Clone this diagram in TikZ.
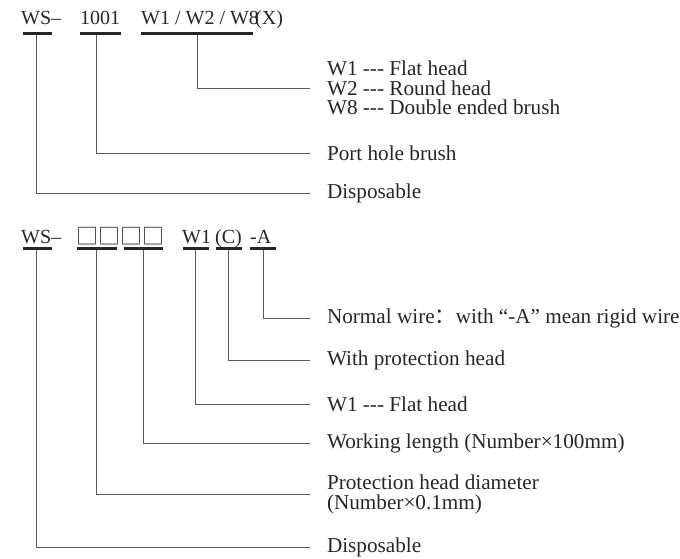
\documentclass[tikz,border=0pt]{standalone}
\usepackage{fontspec}
\setmainfont{Liberation Serif}
\newfontfamily\cjk{Noto Sans CJK SC}
\usetikzlibrary{positioning}

\begin{document}
\begin{tikzpicture}[
  x=1pt, y=-1pt,
  code/.style={anchor=base west, inner sep=0pt, text=black!85,
               font=\fontsize{20}{22}\selectfont},
  bar/.style={fill=black!85, minimum height=2.6pt, inner sep=0pt},
  lbl/.style={anchor=west, inner sep=0pt, outer xsep=17pt, align=left,
              text=black!85, font=\fontsize{21.2}{19.8}\selectfont},
  lk/.style={draw, black!65, line width=0.8pt}
]
  \useasboundingbox (0,0) rectangle (680,559);
  % first code
  \node[code] (cWS) at (21,25) {WS--};
  \node[code] (cNum) at (80,25) {1001};
  \node[code] (cW) at (141,25) {W1 / W2 / W8};
  \node[code] (cX) at (255,25) {(X)};
  \node[bar, minimum width=29pt] (bWS) at (37.5,33.3) {};
  \node[bar, minimum width=41pt] (bNum) at (100.5,33.3) {};
  \node[bar, minimum width=112pt] (bW) at (197,33.3) {};
  \node[lbl] (tW) at (310,88) {W1 -{}-{}- Flat head\\W2 -{}-{}- Round head\\W8 -{}-{}- Double ended brush};
  \node[lbl] (tP) at (310,153) {Port hole brush};
  \node[lbl] (tD) at (310,193) {Disposable};
  \draw[lk] (bW.south) |- (tW.west);
  \draw[lk] ([xshift=-4.5pt]bNum.south) |- (tP.west);
  \draw[lk] ([xshift=-1.5pt]bWS.south) |- (tD.west);
  % second code
  \node[code] (dWS) at (21,243) {WS--};
  \node[code] (dBox) at (76,244) {\fontsize{22}{22}\cjk □□□□};
  \node[code] (dW) at (182,243) {W1};
  \node[code] (dC) at (215,243) {(C)};
  \node[code] (dA) at (250,243) {-A};
  \node[bar, minimum width=29pt] (eWS) at (37.2,248.5) {};
  \node[bar, minimum width=40pt] (eDia) at (96.7,248.5) {};
  \node[bar, minimum width=39pt] (eLen) at (143.7,248.5) {};
  \node[bar, minimum width=26pt] (eW) at (195.5,248.5) {};
  \node[bar, minimum width=26pt] (eC) at (229,248.5) {};
  \node[bar, minimum width=26pt] (eA) at (263.3,248.5) {};
  \node[lbl] (uA) at (310,318) {Normal wire{\cjk ：}with ``-A'' mean rigid wire};
  \node[lbl] (uC) at (310,360) {With protection head};
  \node[lbl] (uW) at (310,404) {W1 -{}-{}- Flat head};
  \node[lbl] (uLen) at (310,443) {Working length (Number×100mm)};
  \node[lbl] (uDia) at (310,494) {Protection head diameter\\(Number×0.1mm)};
  \node[lbl] (uD) at (310,547) {Disposable};
  \draw[lk] (eA.south) |- (uA.west);
  \draw[lk] ([xshift=-1pt]eC.south) |- (uC.west);
  \draw[lk] (eW.south) |- (uW.west);
  \draw[lk] (eLen.south) |- (uLen.west);
  \draw[lk] (eDia.south) |- (uDia.west);
  \draw[lk] ([xshift=-1pt]eWS.south) |- (uD.west);
\end{tikzpicture}
\end{document}
